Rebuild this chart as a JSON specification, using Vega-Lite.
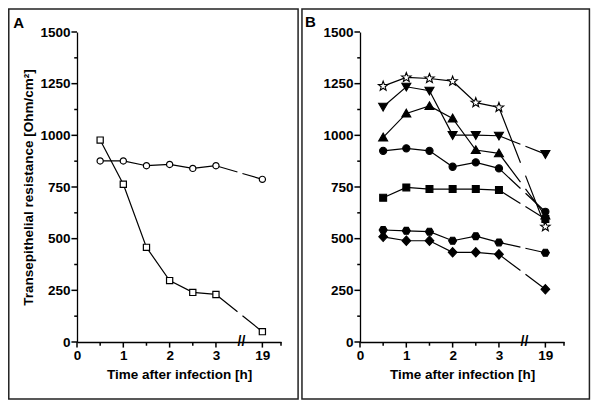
{
  "$schema": "https://vega.github.io/schema/vega-lite/v6.json",
  "padding": {"left": 8, "top": 8, "right": 4, "bottom": 4},
  "spacing": 2,
  "config": {
    "font": "Liberation Sans",
    "view": {"stroke": null},
    "axis": {
      "labelFont": "Liberation Sans", "labelFontSize": 13.5, "labelFontWeight": "bold", "labelColor": "#000",
      "titleFont": "Liberation Sans", "titleFontSize": 13.5, "titleFontWeight": "bold", "titleColor": "#000",
      "domainColor": "#000", "domainWidth": 1.3, "grid": false,
      "ticks": false, "labelOverlap": false, "labelFlush": false, "labelBound": false, "tickCount": 100
    }
  },
  "datasets": {
    "tr": [
      {"panel": "A", "series": "A-circle", "t": 0.5, "v": 876},
      {"panel": "A", "series": "A-circle", "t": 1, "v": 876},
      {"panel": "A", "series": "A-circle", "t": 1.5, "v": 853},
      {"panel": "A", "series": "A-circle", "t": 2, "v": 859},
      {"panel": "A", "series": "A-circle", "t": 2.5, "v": 840},
      {"panel": "A", "series": "A-circle", "t": 3, "v": 853},
      {"panel": "A", "series": "A-circle", "t": 19, "v": 787},
      {"panel": "A", "series": "A-square", "t": 0.5, "v": 977},
      {"panel": "A", "series": "A-square", "t": 1, "v": 763},
      {"panel": "A", "series": "A-square", "t": 1.5, "v": 458},
      {"panel": "A", "series": "A-square", "t": 2, "v": 297},
      {"panel": "A", "series": "A-square", "t": 2.5, "v": 240},
      {"panel": "A", "series": "A-square", "t": 3, "v": 230},
      {"panel": "A", "series": "A-square", "t": 19, "v": 50},
      {"panel": "B", "series": "B-star", "t": 0.5, "v": 1238},
      {"panel": "B", "series": "B-star", "t": 1, "v": 1280},
      {"panel": "B", "series": "B-star", "t": 1.5, "v": 1275},
      {"panel": "B", "series": "B-star", "t": 2, "v": 1262},
      {"panel": "B", "series": "B-star", "t": 2.5, "v": 1158},
      {"panel": "B", "series": "B-star", "t": 3, "v": 1135},
      {"panel": "B", "series": "B-star", "t": 19, "v": 558},
      {"panel": "B", "series": "B-tridown", "t": 0.5, "v": 1138},
      {"panel": "B", "series": "B-tridown", "t": 1, "v": 1235},
      {"panel": "B", "series": "B-tridown", "t": 1.5, "v": 1216},
      {"panel": "B", "series": "B-tridown", "t": 2, "v": 1001},
      {"panel": "B", "series": "B-tridown", "t": 2.5, "v": 1001},
      {"panel": "B", "series": "B-tridown", "t": 3, "v": 998},
      {"panel": "B", "series": "B-tridown", "t": 19, "v": 909},
      {"panel": "B", "series": "B-triup", "t": 0.5, "v": 990},
      {"panel": "B", "series": "B-triup", "t": 1, "v": 1106},
      {"panel": "B", "series": "B-triup", "t": 1.5, "v": 1142},
      {"panel": "B", "series": "B-triup", "t": 2, "v": 1082},
      {"panel": "B", "series": "B-triup", "t": 2.5, "v": 929},
      {"panel": "B", "series": "B-triup", "t": 3, "v": 913},
      {"panel": "B", "series": "B-triup", "t": 19, "v": 612},
      {"panel": "B", "series": "B-circle", "t": 0.5, "v": 925},
      {"panel": "B", "series": "B-circle", "t": 1, "v": 937},
      {"panel": "B", "series": "B-circle", "t": 1.5, "v": 925},
      {"panel": "B", "series": "B-circle", "t": 2, "v": 848},
      {"panel": "B", "series": "B-circle", "t": 2.5, "v": 869},
      {"panel": "B", "series": "B-circle", "t": 3, "v": 840},
      {"panel": "B", "series": "B-circle", "t": 19, "v": 630},
      {"panel": "B", "series": "B-square", "t": 0.5, "v": 698},
      {"panel": "B", "series": "B-square", "t": 1, "v": 748},
      {"panel": "B", "series": "B-square", "t": 1.5, "v": 740},
      {"panel": "B", "series": "B-square", "t": 2, "v": 740},
      {"panel": "B", "series": "B-square", "t": 2.5, "v": 740},
      {"panel": "B", "series": "B-square", "t": 3, "v": 735},
      {"panel": "B", "series": "B-square", "t": 19, "v": 595},
      {"panel": "B", "series": "B-hexagon", "t": 0.5, "v": 542},
      {"panel": "B", "series": "B-hexagon", "t": 1, "v": 538},
      {"panel": "B", "series": "B-hexagon", "t": 1.5, "v": 534},
      {"panel": "B", "series": "B-hexagon", "t": 2, "v": 490},
      {"panel": "B", "series": "B-hexagon", "t": 2.5, "v": 512},
      {"panel": "B", "series": "B-hexagon", "t": 3, "v": 482},
      {"panel": "B", "series": "B-hexagon", "t": 19, "v": 432},
      {"panel": "B", "series": "B-diamond", "t": 0.5, "v": 509},
      {"panel": "B", "series": "B-diamond", "t": 1, "v": 490},
      {"panel": "B", "series": "B-diamond", "t": 1.5, "v": 490},
      {"panel": "B", "series": "B-diamond", "t": 2, "v": 434},
      {"panel": "B", "series": "B-diamond", "t": 2.5, "v": 434},
      {"panel": "B", "series": "B-diamond", "t": 3, "v": 424},
      {"panel": "B", "series": "B-diamond", "t": 19, "v": 255}
    ],
    "xmajor": [{"t": 0}, {"t": 1}, {"t": 2}, {"t": 3}, {"t": 19}],
    "xminor": [{"t": 0.5}, {"t": 1.5}, {"t": 2.5}, {"t": 19.4}],
    "ymajor": [{"v": 0}, {"v": 250}, {"v": 500}, {"v": 750}, {"v": 1000}, {"v": 1250}, {"v": 1500}],
    "yminor": [{"v": 125}, {"v": 375}, {"v": 625}, {"v": 875}, {"v": 1125}, {"v": 1375}]
  },
  "hconcat": [
    {
      "width": 204, "height": 310,
      "layer": [
        {
          "data": {"values": [{}]},
          "mark": {"type": "rect", "fill": null, "stroke": "#222", "strokeWidth": 1.5},
          "encoding": {
            "x": {"datum": -1.473, "type": "quantitative", "scale": {"domain": [0, 3.5, 18.5, 19.4], "range": [0, 162.1, 162.1, 204], "nice": false, "zero": false}},
            "x2": {"datum": 19.767},
            "y": {"datum": -276, "type": "quantitative", "scale": {"domain": [0, 1500], "nice": false, "zero": false}},
            "y2": {"datum": 1611}
          }
        },
        {
          "data": {"values": [{"label": "A"}]},
          "mark": {"type": "text", "fontSize": 15, "fontWeight": "bold", "align": "left", "baseline": "alphabetic", "color": "#000"},
          "encoding": {
            "x": {"datum": -1.376, "type": "quantitative", "scale": {"domain": [0, 3.5, 18.5, 19.4], "range": [0, 162.1, 162.1, 204], "nice": false, "zero": false}},
            "y": {"datum": 1519, "type": "quantitative", "scale": {"domain": [0, 1500], "nice": false, "zero": false}},
            "text": {"field": "label"}
          }
        },
        {
          "data": {"values": [{"label": "//"}]},
          "mark": {"type": "text", "fontSize": 14, "fontWeight": "bold", "align": "center", "baseline": "middle", "color": "#000"},
          "encoding": {
            "x": {"datum": 18.55, "type": "quantitative", "scale": {"domain": [0, 3.5, 18.5, 19.4], "range": [0, 162.1, 162.1, 204], "nice": false, "zero": false}},
            "y": {"datum": 0, "type": "quantitative", "scale": {"domain": [0, 1500], "nice": false, "zero": false}},
            "text": {"field": "label"}
          }
        },
        {
          "data": {"name": "xmajor"},
          "mark": {"type": "rule", "color": "#000", "strokeWidth": 1.5},
          "encoding": {
            "x": {"field": "t", "type": "quantitative", "scale": {"domain": [0, 3.5, 18.5, 19.4], "range": [0, 162.1, 162.1, 204], "nice": false, "zero": false}},
            "y": {"datum": 0, "type": "quantitative", "scale": {"domain": [0, 1500], "nice": false, "zero": false}},
            "y2": {"datum": -27}
          }
        },
        {
          "data": {"name": "xminor"},
          "mark": {"type": "rule", "color": "#000", "strokeWidth": 1.5},
          "encoding": {
            "x": {"field": "t", "type": "quantitative", "scale": {"domain": [0, 3.5, 18.5, 19.4], "range": [0, 162.1, 162.1, 204], "nice": false, "zero": false}},
            "y": {"datum": 0, "type": "quantitative", "scale": {"domain": [0, 1500], "nice": false, "zero": false}},
            "y2": {"datum": -18}
          }
        },
        {
          "data": {"name": "ymajor"},
          "mark": {"type": "rule", "color": "#000", "strokeWidth": 1.5},
          "encoding": {
            "x": {"datum": 0, "type": "quantitative", "scale": {"domain": [0, 3.5, 18.5, 19.4], "range": [0, 162.1, 162.1, 204], "nice": false, "zero": false}},
            "x2": {"datum": -0.12},
            "y": {"field": "v", "type": "quantitative", "scale": {"domain": [0, 1500], "nice": false, "zero": false}}
          }
        },
        {
          "data": {"name": "yminor"},
          "mark": {"type": "rule", "color": "#000", "strokeWidth": 1.5},
          "encoding": {
            "x": {"datum": 0, "type": "quantitative", "scale": {"domain": [0, 3.5, 18.5, 19.4], "range": [0, 162.1, 162.1, 204], "nice": false, "zero": false}},
            "x2": {"datum": -0.06},
            "y": {"field": "v", "type": "quantitative", "scale": {"domain": [0, 1500], "nice": false, "zero": false}}
          }
        },
        {
          "data": {"name": "tr"},
          "transform": [{"filter": "datum.panel === 'A' && datum.t <= 3"}],
          "mark": {"type": "line", "color": "#000", "strokeWidth": 1.2},
          "encoding": {
            "x": {"field": "t", "type": "quantitative", "scale": {"domain": [0, 3.5, 18.5, 19.4], "range": [0, 162.1, 162.1, 204], "nice": false, "zero": false},
              "axis": {"values": [0, 1, 2, 3, 19], "format": "d", "title": "Time after infection [h]", "labelPadding": 6, "titlePadding": 6}},
            "y": {"field": "v", "type": "quantitative", "scale": {"domain": [0, 1500], "nice": false, "zero": false},
              "axis": {"values": [0, 250, 500, 750, 1000, 1250, 1500], "format": "d", "title": "Transepithelial resistance [Ohm/cm²]", "labelPadding": 7, "titlePadding": 4}},
            "detail": {"field": "series"}
          }
        },
        {
          "data": {"name": "tr"},
          "transform": [{"filter": "datum.panel === 'A' && datum.t >= 3"}],
          "mark": {"type": "line", "color": "#000", "strokeWidth": 1.2},
          "encoding": {
            "x": {"field": "t", "type": "quantitative", "scale": {"domain": [0, 3.5, 18.5, 19.4], "range": [0, 162.1, 162.1, 204], "nice": false, "zero": false}},
            "y": {"field": "v", "type": "quantitative", "scale": {"domain": [0, 1500], "nice": false, "zero": false}},
            "strokeDash": {"field": "series", "type": "nominal", "legend": null,
              "scale": {"domain": ["A-circle", "A-square", "B-star", "B-tridown", "B-triup", "B-circle", "B-square", "B-hexagon", "B-diamond"],
                "range": [[22.4, 5.2, 300], [27.6, 6.4, 300], [59.4, 13.8, 300], [23.1, 5.4, 300], [36, 8.4, 300], [29.5, 6.9, 300], [25.3, 5.9, 300], [22, 5.1, 300], [26.9, 6.3, 300]]}}
          }
        },
        {
          "data": {"name": "tr"},
          "transform": [{"filter": "datum.panel === 'A'"}],
          "mark": {"type": "point", "filled": true, "stroke": "#000", "strokeWidth": 1.2, "opacity": 1, "size": 100},
          "encoding": {
            "x": {"field": "t", "type": "quantitative", "scale": {"domain": [0, 3.5, 18.5, 19.4], "range": [0, 162.1, 162.1, 204], "nice": false, "zero": false}},
            "y": {"field": "v", "type": "quantitative", "scale": {"domain": [0, 1500], "nice": false, "zero": false}},
            "shape": {"field": "series", "type": "nominal", "legend": null,
              "scale": {"domain": ["A-circle", "A-square", "B-star", "B-tridown", "B-triup", "B-circle", "B-square", "B-hexagon", "B-diamond"],
                "range": ["M-0.62,0A0.62,0.62,0,1,1,0.62,0A0.62,0.62,0,1,1,-0.62,0Z", "M-0.62,-0.62H0.62V0.62H-0.62Z",
                  "M0,-1L0.247,-0.34L0.951,-0.309L0.399,0.13L0.588,0.809L0,0.42L-0.588,0.809L-0.399,0.13L-0.951,-0.309L-0.247,-0.34Z",
                  "M0,0.85L0.9,-0.7L-0.9,-0.7Z", "M0,-0.85L0.9,0.7L-0.9,0.7Z",
                  "M-0.72,0A0.72,0.72,0,1,1,0.72,0A0.72,0.72,0,1,1,-0.72,0Z", "M-0.69,-0.69H0.69V0.69H-0.69Z",
                  "M-0.8,0L-0.4,-0.69L0.4,-0.69L0.8,0L0.4,0.69L-0.4,0.69Z", "M0,-0.95L0.87,0L0,0.95L-0.87,0Z"]}},
            "fill": {"field": "series", "type": "nominal", "legend": null,
              "scale": {"domain": ["A-circle", "A-square", "B-star", "B-tridown", "B-triup", "B-circle", "B-square", "B-hexagon", "B-diamond"],
                "range": ["#fff", "#fff", "#fff", "#000", "#000", "#000", "#000", "#000", "#000"]}}
          }
        }
      ]
    },
    {
      "width": 204, "height": 310,
      "layer": [
        {
          "data": {"values": [{}]},
          "mark": {"type": "rect", "fill": null, "stroke": "#222", "strokeWidth": 1.5},
          "encoding": {
            "x": {"datum": -1.253, "type": "quantitative", "scale": {"domain": [0, 3.5, 18.5, 19.4], "range": [0, 162.1, 162.1, 204], "nice": false, "zero": false}},
            "x2": {"datum": 19.946},
            "y": {"datum": -276, "type": "quantitative", "scale": {"domain": [0, 1500], "nice": false, "zero": false}},
            "y2": {"datum": 1611}
          }
        },
        {
          "data": {"values": [{"label": "B"}]},
          "mark": {"type": "text", "fontSize": 15, "fontWeight": "bold", "align": "left", "baseline": "alphabetic", "color": "#000"},
          "encoding": {
            "x": {"datum": -1.187, "type": "quantitative", "scale": {"domain": [0, 3.5, 18.5, 19.4], "range": [0, 162.1, 162.1, 204], "nice": false, "zero": false}},
            "y": {"datum": 1522, "type": "quantitative", "scale": {"domain": [0, 1500], "nice": false, "zero": false}},
            "text": {"field": "label"}
          }
        },
        {
          "data": {"values": [{"label": "//"}]},
          "mark": {"type": "text", "fontSize": 14, "fontWeight": "bold", "align": "center", "baseline": "middle", "color": "#000"},
          "encoding": {
            "x": {"datum": 18.55, "type": "quantitative", "scale": {"domain": [0, 3.5, 18.5, 19.4], "range": [0, 162.1, 162.1, 204], "nice": false, "zero": false}},
            "y": {"datum": 0, "type": "quantitative", "scale": {"domain": [0, 1500], "nice": false, "zero": false}},
            "text": {"field": "label"}
          }
        },
        {
          "data": {"name": "xmajor"},
          "mark": {"type": "rule", "color": "#000", "strokeWidth": 1.5},
          "encoding": {
            "x": {"field": "t", "type": "quantitative", "scale": {"domain": [0, 3.5, 18.5, 19.4], "range": [0, 162.1, 162.1, 204], "nice": false, "zero": false}},
            "y": {"datum": 0, "type": "quantitative", "scale": {"domain": [0, 1500], "nice": false, "zero": false}},
            "y2": {"datum": -27}
          }
        },
        {
          "data": {"name": "xminor"},
          "mark": {"type": "rule", "color": "#000", "strokeWidth": 1.5},
          "encoding": {
            "x": {"field": "t", "type": "quantitative", "scale": {"domain": [0, 3.5, 18.5, 19.4], "range": [0, 162.1, 162.1, 204], "nice": false, "zero": false}},
            "y": {"datum": 0, "type": "quantitative", "scale": {"domain": [0, 1500], "nice": false, "zero": false}},
            "y2": {"datum": -18}
          }
        },
        {
          "data": {"name": "ymajor"},
          "mark": {"type": "rule", "color": "#000", "strokeWidth": 1.5},
          "encoding": {
            "x": {"datum": 0, "type": "quantitative", "scale": {"domain": [0, 3.5, 18.5, 19.4], "range": [0, 162.1, 162.1, 204], "nice": false, "zero": false}},
            "x2": {"datum": -0.12},
            "y": {"field": "v", "type": "quantitative", "scale": {"domain": [0, 1500], "nice": false, "zero": false}}
          }
        },
        {
          "data": {"name": "yminor"},
          "mark": {"type": "rule", "color": "#000", "strokeWidth": 1.5},
          "encoding": {
            "x": {"datum": 0, "type": "quantitative", "scale": {"domain": [0, 3.5, 18.5, 19.4], "range": [0, 162.1, 162.1, 204], "nice": false, "zero": false}},
            "x2": {"datum": -0.06},
            "y": {"field": "v", "type": "quantitative", "scale": {"domain": [0, 1500], "nice": false, "zero": false}}
          }
        },
        {
          "data": {"name": "tr"},
          "transform": [{"filter": "datum.panel === 'B' && datum.t <= 3"}],
          "mark": {"type": "line", "color": "#000", "strokeWidth": 1.2},
          "encoding": {
            "x": {"field": "t", "type": "quantitative", "scale": {"domain": [0, 3.5, 18.5, 19.4], "range": [0, 162.1, 162.1, 204], "nice": false, "zero": false},
              "axis": {"values": [0, 1, 2, 3, 19], "format": "d", "title": "Time after infection [h]", "labelPadding": 6, "titlePadding": 6}},
            "y": {"field": "v", "type": "quantitative", "scale": {"domain": [0, 1500], "nice": false, "zero": false},
              "axis": {"values": [0, 250, 500, 750, 1000, 1250, 1500], "format": "d", "title": null, "labelPadding": 7}},
            "detail": {"field": "series"}
          }
        },
        {
          "data": {"name": "tr"},
          "transform": [{"filter": "datum.panel === 'B' && datum.t >= 3"}],
          "mark": {"type": "line", "color": "#000", "strokeWidth": 1.2},
          "encoding": {
            "x": {"field": "t", "type": "quantitative", "scale": {"domain": [0, 3.5, 18.5, 19.4], "range": [0, 162.1, 162.1, 204], "nice": false, "zero": false}},
            "y": {"field": "v", "type": "quantitative", "scale": {"domain": [0, 1500], "nice": false, "zero": false}},
            "strokeDash": {"field": "series", "type": "nominal", "legend": null,
              "scale": {"domain": ["A-circle", "A-square", "B-star", "B-tridown", "B-triup", "B-circle", "B-square", "B-hexagon", "B-diamond"],
                "range": [[22.4, 5.2, 300], [27.6, 6.4, 300], [59.4, 13.8, 300], [23.1, 5.4, 300], [36, 8.4, 300], [29.5, 6.9, 300], [25.3, 5.9, 300], [22, 5.1, 300], [26.9, 6.3, 300]]}}
          }
        },
        {
          "data": {"name": "tr"},
          "transform": [{"filter": "datum.panel === 'B'"}],
          "mark": {"type": "point", "filled": true, "stroke": "#000", "strokeWidth": 1.1, "opacity": 1, "size": 100},
          "encoding": {
            "x": {"field": "t", "type": "quantitative", "scale": {"domain": [0, 3.5, 18.5, 19.4], "range": [0, 162.1, 162.1, 204], "nice": false, "zero": false}},
            "y": {"field": "v", "type": "quantitative", "scale": {"domain": [0, 1500], "nice": false, "zero": false}},
            "shape": {"field": "series", "type": "nominal", "legend": null,
              "scale": {"domain": ["A-circle", "A-square", "B-star", "B-tridown", "B-triup", "B-circle", "B-square", "B-hexagon", "B-diamond"],
                "range": ["M-0.62,0A0.62,0.62,0,1,1,0.62,0A0.62,0.62,0,1,1,-0.62,0Z", "M-0.62,-0.62H0.62V0.62H-0.62Z",
                  "M0,-1L0.247,-0.34L0.951,-0.309L0.399,0.13L0.588,0.809L0,0.42L-0.588,0.809L-0.399,0.13L-0.951,-0.309L-0.247,-0.34Z",
                  "M0,0.85L0.9,-0.7L-0.9,-0.7Z", "M0,-0.85L0.9,0.7L-0.9,0.7Z",
                  "M-0.72,0A0.72,0.72,0,1,1,0.72,0A0.72,0.72,0,1,1,-0.72,0Z", "M-0.69,-0.69H0.69V0.69H-0.69Z",
                  "M-0.8,0L-0.4,-0.69L0.4,-0.69L0.8,0L0.4,0.69L-0.4,0.69Z", "M0,-0.95L0.87,0L0,0.95L-0.87,0Z"]}},
            "fill": {"field": "series", "type": "nominal", "legend": null,
              "scale": {"domain": ["A-circle", "A-square", "B-star", "B-tridown", "B-triup", "B-circle", "B-square", "B-hexagon", "B-diamond"],
                "range": ["#fff", "#fff", "#fff", "#000", "#000", "#000", "#000", "#000", "#000"]}}
          }
        }
      ]
    }
  ]
}
